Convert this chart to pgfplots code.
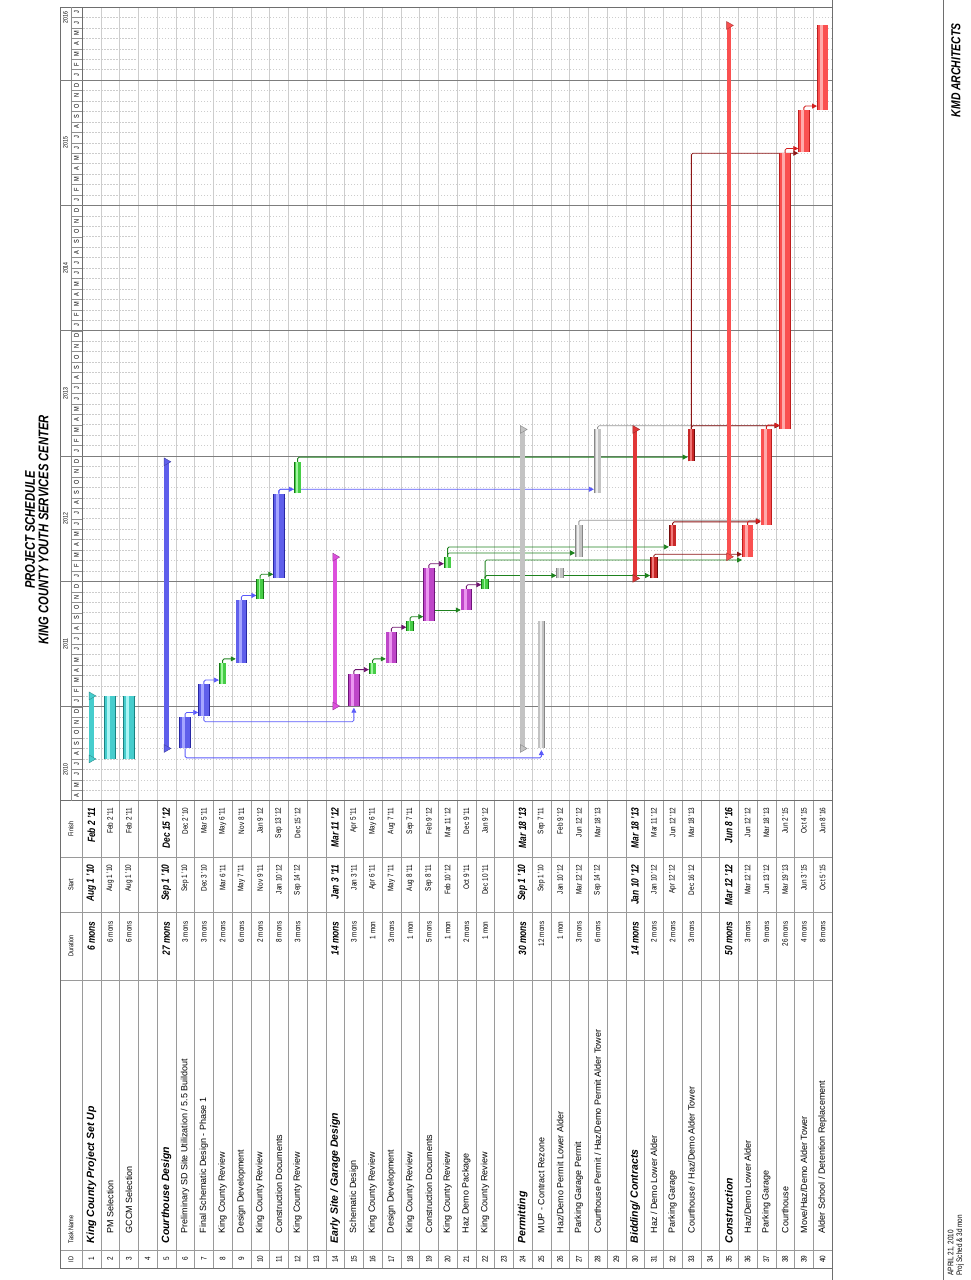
\documentclass[border=0pt]{standalone}
\usepackage{graphicx}
\usepackage{fontspec}
\setmainfont{Liberation Sans}[FakeStretch=0.8]
\newfontfamily\namefamily{Liberation Sans}
\usepackage{pgfplots}
\pgfplotsset{compat=1.18}
\usetikzlibrary{arrows.meta}

% palette
\definecolor{gridgray}{RGB}{205,205,205}
\definecolor{yeargray}{RGB}{125,125,125}
\definecolor{framegray}{RGB}{110,110,110}
\definecolor{cyanbar}{RGB}{70,205,205}
\definecolor{cyanlight}{RGB}{170,245,245}
\definecolor{cyandark}{RGB}{25,130,130}
\definecolor{bluebar}{RGB}{95,95,235}
\definecolor{bluelight}{RGB}{165,165,255}
\definecolor{bluedark}{RGB}{40,40,165}
\definecolor{greenbar}{RGB}{70,205,70}
\definecolor{greenlight}{RGB}{160,245,160}
\definecolor{greendark}{RGB}{20,120,20}
\definecolor{purplebar}{RGB}{190,70,200}
\definecolor{purplelight}{RGB}{235,150,240}
\definecolor{purpledark}{RGB}{110,20,120}
\definecolor{magentabar}{RGB}{220,80,220}
\definecolor{graybar}{RGB}{195,195,195}
\definecolor{graylight}{RGB}{238,238,238}
\definecolor{graydark}{RGB}{135,135,135}
\definecolor{dredbar}{RGB}{200,40,40}
\definecolor{dredlight}{RGB}{240,120,120}
\definecolor{dreddark}{RGB}{115,10,10}
\definecolor{redsum}{RGB}{225,55,55}
\definecolor{redbar}{RGB}{250,80,80}
\definecolor{redlight}{RGB}{255,170,170}
\definecolor{reddark}{RGB}{190,30,30}
\definecolor{lkblue}{RGB}{90,90,250}
\definecolor{lkgreen}{RGB}{30,130,30}
\definecolor{lkpurple}{RGB}{110,20,110}
\definecolor{lkgray}{RGB}{150,150,150}
\definecolor{lkdred}{RGB}{140,20,20}
\definecolor{lkred}{RGB}{210,30,30}

% task bar: y, start, finish, thickness (pt), colour family
\newcommand\gbar[5]{%
  \addplot[draw=#5dark, line width=#4pt+1.4pt] coordinates {(#2,#1) (#3,#1)};
  \addplot[draw=#5bar, line width=#4pt] coordinates {(#2,#1) (#3,#1)};
  \addplot[draw=#5light, line width=0.3*#4pt, yshift=0.12*#4pt] coordinates {(#2,#1) (#3,#1)};
}
% summary bar: y, start, finish, colour
\newcommand\sbar[4]{%
  \addplot[draw=#4, line width=4.5pt] coordinates {(#2,#1) (#3,#1)};
  \addplot[only marks, mark=triangle*, mark size=4.5pt,
    mark options={rotate=180, fill=#4, draw=#4!70!black}] coordinates {(#2,#1) (#3,#1)};
}
\pgfplotsset{lk/.style={draw=#1, line width=0.8pt, rounded corners=1.5pt,
    -{Triangle[length=5pt,width=5pt]}}}

\newcommand\tabfont{\fontsize{8}{9}\selectfont}
\newcommand\namefont{\namefamily\fontsize{9}{10}\selectfont}
\newcommand\sumfont{\fontsize{10.5}{12}\selectfont\bfseries\itshape}
\newcommand\sumnamefont{\namefamily\fontsize{10.5}{12}\selectfont\bfseries\itshape}
% table rows: y, id, name, duration, start, finish
\newcommand\trow[6]{%
  \node[font=\tabfont] at (axis cs:21,#1) {#2};
  \node[font=\namefont, anchor=west] at (axis cs:43,#1) {#3};
  \node[font=\tabfont, anchor=east] at (axis cs:362,#1) {#4};
  \node[font=\tabfont, anchor=east] at (axis cs:419,#1) {#5};
  \node[font=\tabfont, anchor=east] at (axis cs:476,#1) {#6};
}
\newcommand\srow[6]{%
  \node[font=\tabfont] at (axis cs:21,#1) {#2};
  \node[font=\sumnamefont, anchor=west] at (axis cs:33,#1) {#3};
  \node[font=\sumfont, anchor=east] at (axis cs:362,#1) {#4};
  \node[font=\sumfont, anchor=east] at (axis cs:419,#1) {#5};
  \node[font=\sumfont, anchor=east] at (axis cs:476,#1) {#6};
}
\newcommand\erow[2]{\node[font=\tabfont] at (axis cs:21,#1) {#2};}
\newcommand\monthletter[1]{\pgfmathtruncatemacro\mi{mod(#1,12)}%
  \ifcase\mi J\or F\or M\or A\or M\or J\or J\or A\or S\or O\or N\or D\fi}

\begin{document}
\rotatebox{90}{%
\begin{tikzpicture}[x=1pt,y=-1pt]
\useasboundingbox (0,0) rectangle (1280,970);

% ---------------- task table ----------------
\begin{axis}[
  at={(12pt,-832pt)}, anchor=south west, scale only axis,
  width=467.3pt, height=772pt,
  xmin=12, xmax=479.3, ymin=-40, ymax=1.1733,
  clip=false,
  axis line style={draw=framegray, line width=0.7pt},
  xtick={30,300,368,423}, xticklabels={},
  ytick={-40,-39,...,0}, yticklabels={},
  major tick length=0pt,
  xmajorgrids, ymajorgrids,
  grid style={draw=gridgray!75!black, line width=0.5pt},
]
\node[font=\fontsize{7}{8}\selectfont, anchor=west] at (axis cs:14,0.587) {ID};
\node[font=\fontsize{7}{8}\selectfont, anchor=west] at (axis cs:33,0.587) {Task Name};
\node[font=\fontsize{7}{8}\selectfont] at (axis cs:334,0.587) {Duration};
\node[font=\fontsize{7}{8}\selectfont] at (axis cs:395.5,0.587) {Start};
\node[font=\fontsize{7}{8}\selectfont] at (axis cs:451,0.587) {Finish};

\srow{-0.5}{1}{King County Project Set Up}{6 mons}{Aug 1 '10}{Feb 2 '11}
\trow{-1.5}{2}{PM Selection}{6 mons}{Aug 1 '10}{Feb 2 '11}
\trow{-2.5}{3}{GCCM Selection}{6 mons}{Aug 1 '10}{Feb 2 '11}
\erow{-3.5}{4}
\srow{-4.5}{5}{Courthouse Design}{27 mons}{Sep 1 '10}{Dec 15 '12}
\trow{-5.5}{6}{Preliminary SD Site Utilization / 5.5 Buildout}{3 mons}{Sep 1 '10}{Dec 2 '10}
\trow{-6.5}{7}{Final Schematic Design - Phase 1}{3 mons}{Dec 3 '10}{Mar 5 '11}
\trow{-7.5}{8}{King County Review}{2 mons}{Mar 6 '11}{May 6 '11}
\trow{-8.5}{9}{Design Development}{6 mons}{May 7 '11}{Nov 8 '11}
\trow{-9.5}{10}{King County Review}{2 mons}{Nov 9 '11}{Jan 9 '12}
\trow{-10.5}{11}{Construction Documents}{8 mons}{Jan 10 '12}{Sep 13 '12}
\trow{-11.5}{12}{King County Review}{3 mons}{Sep 14 '12}{Dec 15 '12}
\erow{-12.5}{13}
\srow{-13.5}{14}{Early Site / Garage Design}{14 mons}{Jan 3 '11}{Mar 11 '12}
\trow{-14.5}{15}{Schematic Design}{3 mons}{Jan 3 '11}{Apr 5 '11}
\trow{-15.5}{16}{King County Review}{1 mon}{Apr 6 '11}{May 6 '11}
\trow{-16.5}{17}{Design Development}{3 mons}{May 7 '11}{Aug 7 '11}
\trow{-17.5}{18}{King County Review}{1 mon}{Aug 8 '11}{Sep 7 '11}
\trow{-18.5}{19}{Construction Documents}{5 mons}{Sep 8 '11}{Feb 9 '12}
\trow{-19.5}{20}{King County Review}{1 mon}{Feb 10 '12}{Mar 11 '12}
\trow{-20.5}{21}{Haz Demo Package}{2 mons}{Oct 9 '11}{Dec 9 '11}
\trow{-21.5}{22}{King County Review}{1 mon}{Dec 10 '11}{Jan 9 '12}
\erow{-22.5}{23}
\srow{-23.5}{24}{Permitting}{30 mons}{Sep 1 '10}{Mar 18 '13}
\trow{-24.5}{25}{MUP - Contract Rezone}{12 mons}{Sep 1 '10}{Sep 7 '11}
\trow{-25.5}{26}{Haz/Demo Permit Lower Alder}{1 mon}{Jan 10 '12}{Feb 9 '12}
\trow{-26.5}{27}{Parking Garage Permit}{3 mons}{Mar 12 '12}{Jun 12 '12}
\trow{-27.5}{28}{Courthouse Permit / Haz/Demo Permit Alder Tower}{6 mons}{Sep 14 '12}{Mar 18 '13}
\erow{-28.5}{29}
\srow{-29.5}{30}{Bidding/ Contracts}{14 mons}{Jan 10 '12}{Mar 18 '13}
\trow{-30.5}{31}{Haz / Demo Lower Alder}{2 mons}{Jan 10 '12}{Mar 11 '12}
\trow{-31.5}{32}{Parking Garage}{2 mons}{Apr 12 '12}{Jun 12 '12}
\trow{-32.5}{33}{Courthouse / Haz/Demo Alder Tower}{3 mons}{Dec 16 '12}{Mar 18 '13}
\erow{-33.5}{34}
\srow{-34.5}{35}{Construction}{50 mons}{Mar 12 '12}{Jun 8 '16}
\trow{-35.5}{36}{Haz/Demo Lower Alder}{3 mons}{Mar 12 '12}{Jun 12 '12}
\trow{-36.5}{37}{Parking Garage}{9 mons}{Jun 13 '12}{Mar 18 '13}
\trow{-37.5}{38}{Courthouse}{26 mons}{Mar 19 '13}{Jun 2 '15}
\trow{-38.5}{39}{Move/Haz/Demo Alder Tower}{4 mons}{Jun 3 '15}{Oct 4 '15}
\trow{-39.5}{40}{Alder School / Detention Replacement}{8 mons}{Oct 5 '15}{Jun 8 '16}
\end{axis}

% ---------------- gantt area (x: months since Jan 2010) ----------------
\begin{axis}[
  at={(479.3pt,-832pt)}, anchor=south west, scale only axis,
  width=793.7pt, height=750pt,
  xmin=3, xmax=79, ymin=-40, ymax=0,
  clip=false,
  axis line style={draw=framegray, line width=0.7pt},
  xtick={3,4,...,79}, xticklabels={},
  ytick={-40,-39,...,0}, yticklabels={},
  major tick length=0pt,
  xmajorgrids, ymajorgrids,
  x grid style={draw=gridgray, line width=0.5pt, dash pattern=on 1.5pt off 1.5pt},
  y grid style={draw=gridgray, line width=0.5pt},
]
% timescale header
\draw[framegray, line width=0.7pt] (axis cs:3,1.1733) -- (axis cs:79,1.1733) -- (axis cs:79,0);
\draw[gridgray!70!black, line width=0.5pt] (axis cs:3,0.587) -- (axis cs:79,0.587);
\pgfplotsinvokeforeach{4,...,78}{\draw[gridgray!70!black, line width=0.4pt] (axis cs:#1,0) -- (axis cs:#1,0.587);}
\pgfplotsinvokeforeach{12,24,...,72}{\draw[yeargray, line width=0.8pt] (axis cs:#1,-40) -- (axis cs:#1,1.1733);}
\pgfplotsinvokeforeach{3,...,78}{\node[font=\fontsize{7}{7}\selectfont] at (axis cs:#1.5,0.29) {\monthletter{#1}};}
\node[font=\fontsize{6.5}{7}\selectfont] at (axis cs:6,0.88) {2010};
\node[font=\fontsize{6.5}{7}\selectfont] at (axis cs:18,0.88) {2011};
\node[font=\fontsize{6.5}{7}\selectfont] at (axis cs:30,0.88) {2012};
\node[font=\fontsize{6.5}{7}\selectfont] at (axis cs:42,0.88) {2013};
\node[font=\fontsize{6.5}{7}\selectfont] at (axis cs:54,0.88) {2014};
\node[font=\fontsize{6.5}{7}\selectfont] at (axis cs:66,0.88) {2015};
\node[font=\fontsize{6.5}{7}\selectfont] at (axis cs:78,0.88) {2016};

% dependency links
\addplot[lk=lkblue] coordinates {(8.0,-5.5) (7.1,-5.5) (7.1,-24.5) (7.85,-24.5)};
\addplot[lk=lkblue] coordinates {(11.065,-6.5) (10.56,-6.5) (10.56,-14.5) (11.9,-14.5)};
\addplot[lk=lkblue] coordinates {(32.4,-10.5) (32.82,-10.5) (32.82,-27.3)};
\addplot[lk=lkgreen] coordinates {(35.452,-11.5) (35.9,-11.5) (35.9,-32.3)};
\addplot[lk=lkgreen] coordinates {(21.26,-18.8) (21.26,-20.2)};
\addplot[lk=lkgreen] coordinates {(26.323,-19.5) (26.72,-19.5) (26.72,-26.3)};
\addplot[lk=lkgreen] coordinates {(26.323,-19.5) (27.3,-19.5) (27.3,-31.3)};
\addplot[lk=lkgreen] coordinates {(24.258,-21.5) (24.56,-21.5) (24.56,-25.3)};
\addplot[lk=lkgreen] coordinates {(24.258,-21.5) (24.56,-21.5) (24.56,-30.3)};
\addplot[lk=lkgreen] coordinates {(24.258,-21.5) (26.05,-21.5) (26.05,-35.2)};
\addplot[lk=lkgray] coordinates {(29.367,-26.5) (29.86,-26.5) (29.86,-36.2)};
\addplot[lk=lkgray] coordinates {(38.548,-27.5) (38.9,-27.5) (38.9,-37.2)};
\addplot[lk=lkdred] coordinates {(26.323,-30.5) (26.6,-30.5) (26.6,-35.2)};
\addplot[lk=lkdred] coordinates {(29.367,-31.5) (29.7,-31.5) (29.7,-36.2)};
\addplot[lk=lkdred] coordinates {(38.548,-32.5) (38.9,-32.5) (38.9,-37.2)};
\addplot[lk=lkdred] coordinates {(38.548,-32.5) (65.0,-32.5) (65.0,-38.2)};
% finish-to-start chains
\addplot[lk=lkblue] coordinates {(11.032,-5.5) (11.45,-5.5) (11.45,-6.2)};
\addplot[lk=lkblue] coordinates {(14.129,-6.5) (14.55,-6.5) (14.55,-7.3)};
\addplot[lk=lkgreen] coordinates {(16.161,-7.5) (16.58,-7.5) (16.58,-8.2)};
\addplot[lk=lkblue] coordinates {(22.233,-8.5) (22.65,-8.5) (22.65,-9.3)};
\addplot[lk=lkgreen] coordinates {(24.258,-9.5) (24.68,-9.5) (24.68,-10.2)};
\addplot[lk=lkblue] coordinates {(32.4,-10.5) (32.82,-10.5) (32.82,-11.3)};
\addplot[lk=lkpurple] coordinates {(15.133,-14.5) (15.55,-14.5) (15.55,-15.3)};
\addplot[lk=lkgreen] coordinates {(16.161,-15.5) (16.58,-15.5) (16.58,-16.2)};
\addplot[lk=lkpurple] coordinates {(19.194,-16.5) (19.61,-16.5) (19.61,-17.3)};
\addplot[lk=lkgreen] coordinates {(20.2,-17.5) (20.62,-17.5) (20.62,-18.2)};
\addplot[lk=lkpurple] coordinates {(25.276,-18.5) (25.69,-18.5) (25.69,-19.3)};
\addplot[lk=lkpurple] coordinates {(23.258,-20.5) (23.68,-20.5) (23.68,-21.3)};
\addplot[lk=lkred] coordinates {(29.367,-35.5) (29.78,-35.5) (29.78,-36.2)};
\addplot[lk=lkred] coordinates {(38.548,-36.5) (38.96,-36.5) (38.96,-37.2)};
\addplot[lk=lkred] coordinates {(65.033,-37.5) (65.45,-37.5) (65.45,-38.2)};
\addplot[lk=lkred] coordinates {(69.097,-38.5) (69.51,-38.5) (69.51,-39.2)};

% bars
\sbar{-0.5}{7.0}{13.036}{cyanbar}
\gbar{-1.5}{7.0}{13.036}{10}{cyan}
\gbar{-2.5}{7.0}{13.036}{10}{cyan}
\sbar{-4.5}{8.0}{35.452}{bluebar}
\gbar{-5.5}{8.0}{11.032}{10}{blue}
\gbar{-6.5}{11.065}{14.129}{10}{blue}
\gbar{-7.5}{14.161}{16.161}{6}{green}
\gbar{-8.5}{16.194}{22.233}{10}{blue}
\gbar{-9.5}{22.267}{24.258}{6}{green}
\gbar{-10.5}{24.290}{32.4}{10}{blue}
\gbar{-11.5}{32.433}{35.452}{6}{green}
\sbar{-13.5}{12.065}{26.323}{magentabar}
\gbar{-14.5}{12.065}{15.133}{10}{purple}
\gbar{-15.5}{15.167}{16.161}{6}{green}
\gbar{-16.5}{16.194}{19.194}{10}{purple}
\gbar{-17.5}{19.226}{20.2}{6}{green}
\gbar{-18.5}{20.233}{25.276}{10}{purple}
\gbar{-19.5}{25.310}{26.323}{6}{green}
\gbar{-20.5}{21.258}{23.258}{10}{purple}
\gbar{-21.5}{23.290}{24.258}{6}{green}
\sbar{-23.5}{8.0}{38.548}{graybar}
\gbar{-24.5}{8.0}{20.2}{6}{gray}
\gbar{-25.5}{24.290}{25.276}{6}{gray}
\gbar{-26.5}{26.355}{29.367}{6}{gray}
\gbar{-27.5}{32.433}{38.548}{6}{gray}
\sbar{-29.5}{24.290}{38.548}{redsum}
\gbar{-30.5}{24.290}{26.323}{6}{dred}
\gbar{-31.5}{27.367}{29.367}{6}{dred}
\gbar{-32.5}{35.484}{38.548}{6}{dred}
\sbar{-34.5}{26.355}{77.233}{redbar}
\gbar{-35.5}{26.355}{29.367}{10}{red}
\gbar{-36.5}{29.4}{38.548}{10}{red}
\gbar{-37.5}{38.581}{65.033}{10}{red}
\gbar{-38.5}{65.067}{69.097}{10}{red}
\gbar{-39.5}{69.129}{77.233}{10}{red}
\end{axis}

% titles and footer
\node[font=\fontsize{14}{14}\selectfont\bfseries\itshape] at (750,30) {PROJECT SCHEDULE};
\node[font=\fontsize{14}{14}\selectfont\bfseries\itshape] at (750,43.5) {KING COUNTY YOUTH SERVICES CENTER};
\draw[framegray, line width=0.7pt] (0,832) -- (1280,832);
\draw[framegray, line width=0.6pt] (0,943) -- (1280,943);
\node[font=\fontsize{8}{8}\selectfont, anchor=west] at (1,951) {APRIL 21, 2010};
\node[font=\fontsize{8}{8}\selectfont, anchor=west] at (1,960) {Proj Sched \& 3d mon};
\node[font=\fontsize{13}{13}\selectfont\bfseries\itshape, anchor=east] at (1260,956) {KMD ARCHITECTS};
\end{tikzpicture}}
\end{document}
